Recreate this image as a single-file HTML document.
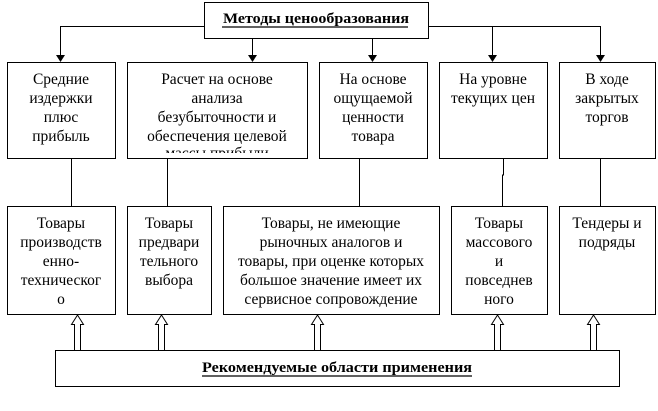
<!DOCTYPE html>
<html><head><meta charset="utf-8"><style>
html,body{margin:0;padding:0;background:#fff;}
svg{display:block;}
text{font-family:"Liberation Serif","DejaVu Serif",serif;font-size:15.5px;fill:#000;}
.b{font-weight:bold;font-size:14.5px;}
</style></head><body>
<svg width="658" height="411" viewBox="0 0 658 411" xmlns="http://www.w3.org/2000/svg">
<defs>
<clipPath id="c2"><rect x="127" y="62" width="180" height="91"/></clipPath>
</defs>
<g fill="none" stroke="#000" stroke-width="1">
<rect x="204.5" y="2.5" width="224" height="36"/>
<polyline points="204,26.5 60.5,26.5 60.5,55"/>
<line x1="252.5" y1="38" x2="252.5" y2="55"/>
<line x1="372.5" y1="38" x2="372.5" y2="55"/>
<polyline points="429,26.5 600.5,26.5 600.5,55"/>
<line x1="492.5" y1="26.5" x2="492.5" y2="55"/>
<rect x="7.5" y="62.5" width="108" height="96"/>
<rect x="127.5" y="62.5" width="180" height="96"/>
<rect x="319.5" y="62.5" width="108" height="96"/>
<rect x="439.5" y="62.5" width="108" height="96"/>
<rect x="559.5" y="62.5" width="96" height="96"/>
<line x1="71.5" y1="158" x2="71.5" y2="206"/>
<line x1="167.5" y1="158" x2="167.5" y2="206"/>
<line x1="359.5" y1="158" x2="359.5" y2="206"/>
<polyline points="503.5,158 503.5,175 502.5,175 502.5,206"/>
<line x1="600.5" y1="158" x2="600.5" y2="206"/>
<rect x="7.5" y="206.5" width="108" height="108"/>
<rect x="127.5" y="206.5" width="84" height="108"/>
<rect x="223.5" y="206.5" width="216" height="108"/>
<rect x="451.5" y="206.5" width="96" height="108"/>
<rect x="559.5" y="206.5" width="96" height="108"/>
<rect x="55.5" y="350.5" width="564" height="36"/>
</g>
<g fill="#000">
<path d="M56,55 L65,55 L60.5,62 z"/><path d="M248,55 L257,55 L252.5,62 z"/><path d="M368,55 L377,55 L372.5,62 z"/><path d="M488,55 L497,55 L492.5,62 z"/><path d="M596,55 L605,55 L600.5,62 z"/>
</g>
<g fill="#fff" stroke="#000" stroke-width="1">
<path d="M74.5,350 L74.5,324.5 L71.5,324.5 L77.5,315 L83.5,324.5 L80.5,324.5 L80.5,350"/>
<path d="M158.5,350 L158.5,324.5 L155.5,324.5 L161.5,315 L167.5,324.5 L164.5,324.5 L164.5,350"/>
<path d="M314.5,350 L314.5,324.5 L311.5,324.5 L317.5,315 L323.5,324.5 L320.5,324.5 L320.5,350"/>
<path d="M494.5,350 L494.5,324.5 L491.5,324.5 L497.5,315 L503.5,324.5 L500.5,324.5 L500.5,350"/>
<path d="M590.5,350 L590.5,324.5 L587.5,324.5 L593.5,315 L599.5,324.5 L596.5,324.5 L596.5,350"/>
</g>
<text class="b" x="316" y="23" text-anchor="middle" textLength="186" lengthAdjust="spacingAndGlyphs">Методы ценообразования</text>
<line x1="222" y1="27" x2="408" y2="27" stroke="#000" stroke-width="1.3"/>
<text class="b" x="337" y="372" text-anchor="middle" textLength="270" lengthAdjust="spacingAndGlyphs">Рекомендуемые области применения</text>
<line x1="202" y1="376" x2="472" y2="376" stroke="#000" stroke-width="1.3"/>
<g text-anchor="middle">
<text x="61" y="84">Средние</text><text x="61" y="103">издержки</text><text x="61" y="122">плюс</text><text x="61" y="141">прибыль</text>
<g clip-path="url(#c2)"><text x="217" y="84">Расчет на основе</text><text x="217" y="103">анализа</text><text x="217" y="122">безубыточности и</text><text x="217" y="141">обеспечения целевой</text><text x="217" y="158">массы прибыли</text></g>
<text x="373" y="84">На основе</text><text x="373" y="103">ощущаемой</text><text x="373" y="122">ценности</text><text x="373" y="141">товара</text>
<text x="493" y="84">На уровне</text><text x="493" y="103">текущих цен</text>
<text x="607" y="84">В ходе</text><text x="607" y="103">закрытых</text><text x="607" y="122">торгов</text>
<text x="61" y="228">Товары</text><text x="61" y="247">производств</text><text x="61" y="266">енно-</text><text x="61" y="285">техническог</text><text x="61" y="304">о</text>
<text x="169" y="228">Товары</text><text x="169" y="247">предвари</text><text x="169" y="266">тельного</text><text x="169" y="285">выбора</text>
<text x="331" y="228">Товары, не имеющие</text><text x="331" y="247">рыночных аналогов и</text><text x="331" y="266">товары, при оценке которых</text><text x="331" y="285">большое значение имеет их</text><text x="331" y="304">сервисное сопровождение</text>
<text x="499" y="228">Товары</text><text x="499" y="247">массового</text><text x="499" y="266">и</text><text x="499" y="285">повседнев</text><text x="499" y="304">ного</text>
<text x="607" y="228">Тендеры и</text><text x="607" y="247">подряды</text>
</g>
</svg>
</body></html>
